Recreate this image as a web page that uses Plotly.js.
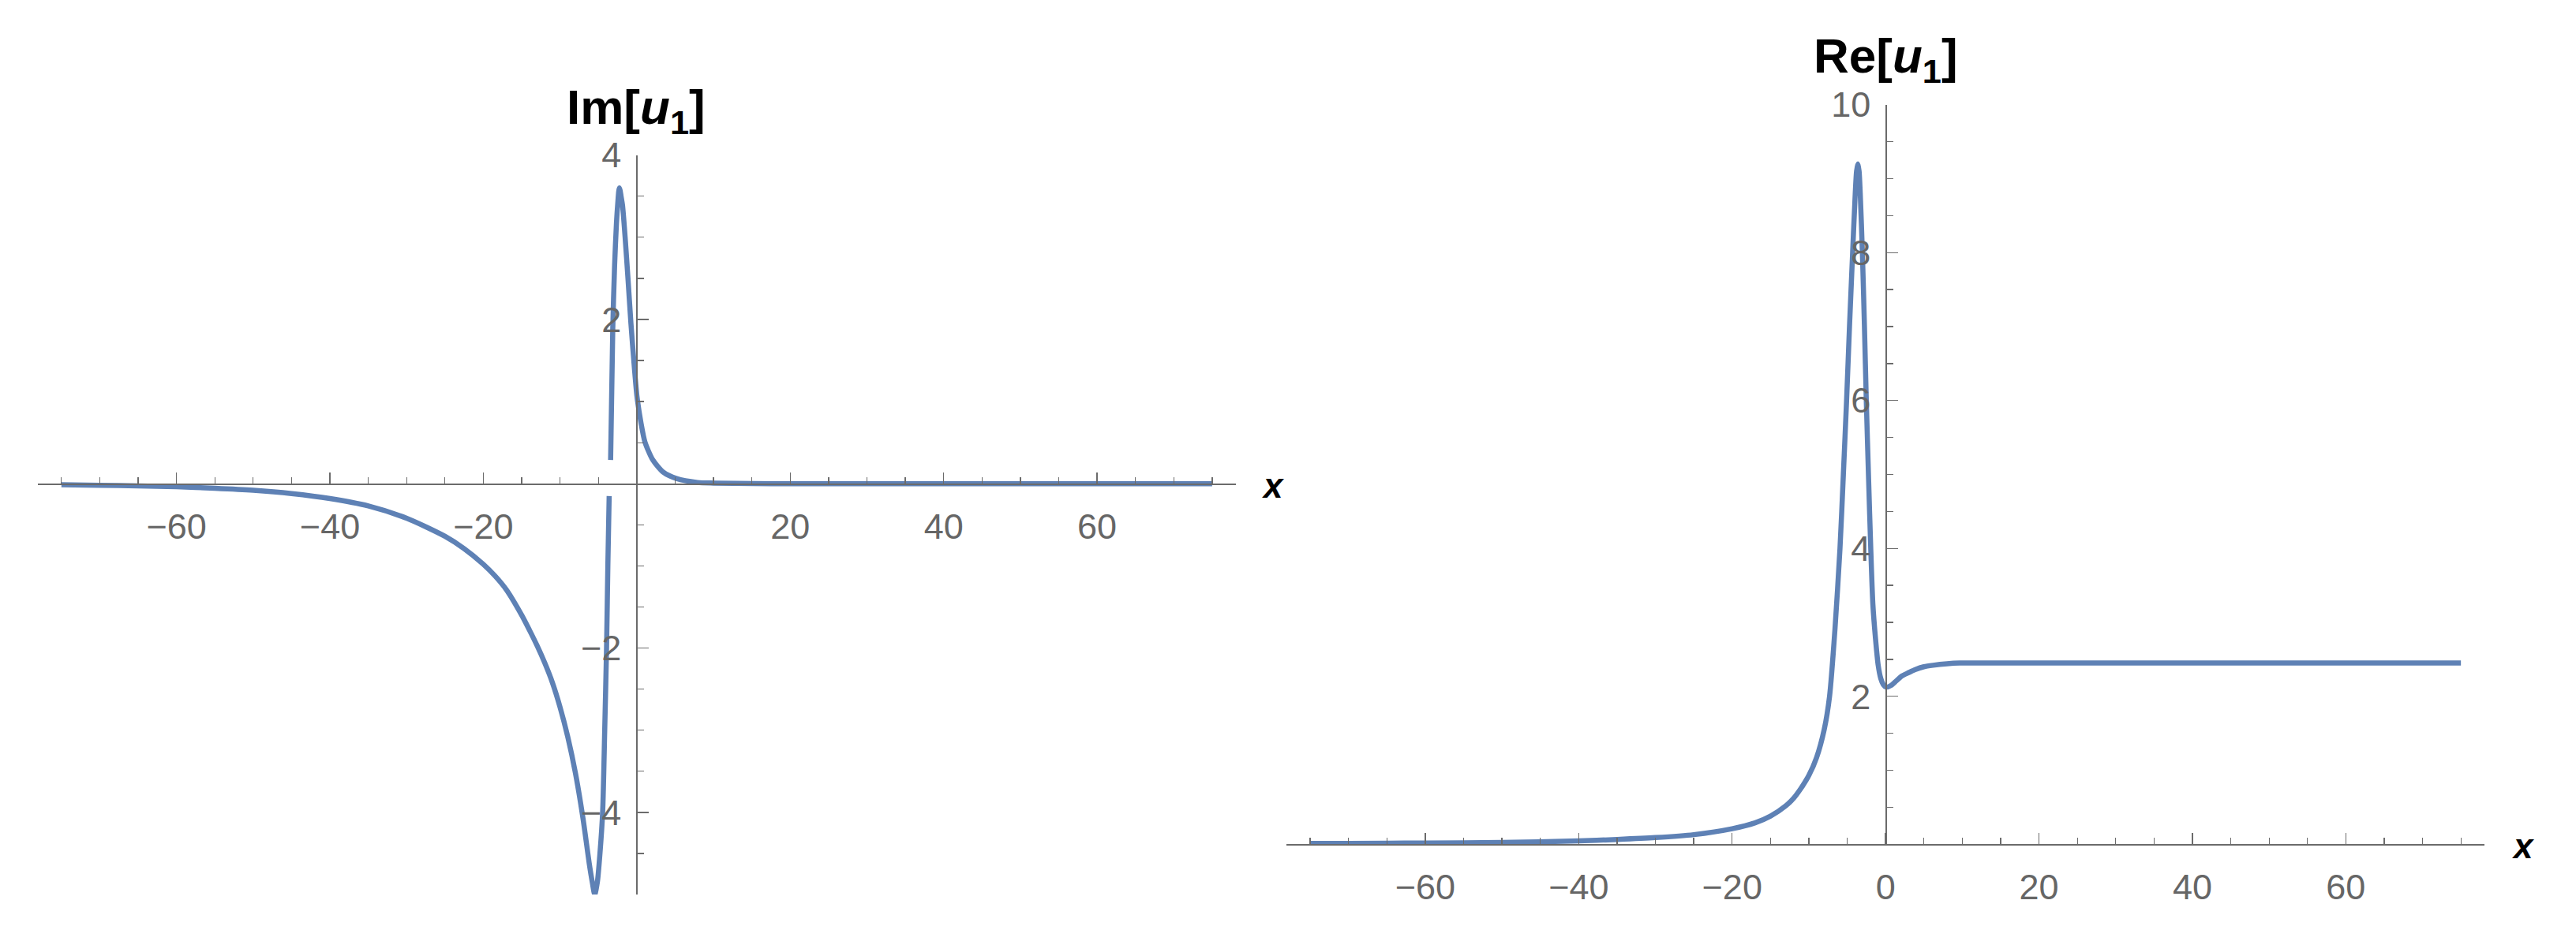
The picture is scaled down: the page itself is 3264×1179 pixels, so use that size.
<!DOCTYPE html>
<html>
<head>
<meta charset="utf-8">
<script src="https://cdn.plot.ly/plotly-3.0.1.min.js"></script>
<style>
html,body{margin:0;padding:0;background:#fff;}
#chart{width:3264px;height:1179px;}
</style>
</head>
<body>
<div id="chart"></div>
<script>
// ---- Data ----
// Left panel: Im[u1] (null marks the break in the curve)
const imX = [-75,-70,-65,-60,-55,-50,-45,-40,-35,-30,-25,-22.5,-20,-18.5,-17,-15,-14,-13,-12,-11,-10,-9,-8,-7,-6.2,-5.8,-5.48,-5.14,-4.8,-4.45,-4.18,-3.94,-3.77,-3.6,
             -3.5,
             -3.41,-3.13,-2.89,-2.65,-2.45,-2.35,-2.27,-2.17,-2.05,-1.86,-1.52,-1.17,-0.76,-0.31,0.03,0.55,1.06,2.09,3.46,5.17,7.9,10,15,20,30,40,50,60,70,75];
const imY = [-0.012,-0.018,-0.026,-0.036,-0.055,-0.08,-0.12,-0.18,-0.27,-0.42,-0.64,-0.79,-0.98,-1.12,-1.29,-1.6,-1.78,-1.97,-2.18,-2.42,-2.72,-3.08,-3.52,-4.08,-4.62,-4.85,-5.0,-4.85,-4.5,-4.0,-3.0,-2.0,-1.0,-0.15,
             null,
             0.29,1.89,2.66,3.17,3.45,3.56,3.6,3.57,3.5,3.39,3.0,2.53,1.95,1.41,1.06,0.74,0.51,0.29,0.14,0.064,0.016,0.008,0.002,0,0,0,0,0,0,0];

// Right panel: Re[u1]
const reX = [-75,-70,-60,-50,-40,-35,-30,-25,-20,-17,-15,-13,-12,-11,-10,-9,-8,-7.3,-6.6,-5.94,-5.5,-5.08,-4.7,-4.29,-3.95,-3.78,-3.61,-3.45,-3.3,-3.02,-2.75,-2.51,-2.2,-1.93,-1.65,-1.31,-0.96,-0.62,-0.3,0.07,0.75,1.4,2.12,3.0,3.83,5.0,6.2,8.0,9.65,12,16.5,25,40,60,75];
const reY = [0.01,0.012,0.017,0.025,0.045,0.065,0.09,0.13,0.21,0.29,0.38,0.52,0.62,0.76,0.93,1.17,1.55,2.0,2.9,4.0,5.0,6.0,7.0,8.0,8.8,9.1,9.2,9.1,8.8,8.0,7.0,6.0,4.9,4.0,3.24,2.78,2.42,2.24,2.16,2.125,2.15,2.21,2.275,2.32,2.36,2.4,2.42,2.44,2.45,2.45,2.45,2.45,2.45,2.45,2.45];

// Tick labels
const xTickValsLeft = [-60,-40,-20,20,40,60];
const xTickTextLeft = ['\u221260','\u221240','\u221220','20','40','60'];
const xTickValsRight = [-60,-40,-20,0,20,40,60];
const xTickTextRight = ['\u221260','\u221240','\u221220','0','20','40','60'];
const imTickVals = [-4,-2,2,4];
const imTickText = ['\u22124','\u22122','2','4'];
const reTickVals = [2,4,6,8,10];
const reTickText = ['2','4','6','8','10'];

// ---- Layout helpers ----
const W = 3264, H = 1179;
const px = v => v / W;
const py = v => 1 - v / H;

const lineColor = '#5E81B5';
const axisColor = '#6b6b6b';
const tickFont = {family: 'Liberation Sans, Arial, sans-serif', size: 45, color: '#666666'};

function xAxis(domain, pos, vals, text) {
  return {
    domain: domain, range: [-78.1, 78.1], anchor: 'free', position: pos,
    showline: true, linecolor: axisColor, linewidth: 1.3,
    showgrid: false, zeroline: false,
    ticks: 'inside', ticklen: 14, tickwidth: 1.3, tickcolor: axisColor,
    tickmode: 'array', tickvals: vals, ticktext: text,
    tickfont: tickFont, ticklabelstandoff: 14,
    minor: {tickmode: 'linear', tick0: 0, dtick: 5, ticks: 'inside', ticklen: 8, tickwidth: 1.3, tickcolor: axisColor, showgrid: false},
    fixedrange: true
  };
}
function yAxis(domain, pos, range, vals, text) {
  return {
    domain: domain, range: range, anchor: 'free', position: pos,
    showline: true, linecolor: axisColor, linewidth: 1.3,
    showgrid: false, zeroline: false,
    ticks: 'inside', ticklen: 14, tickwidth: 1.3, tickcolor: axisColor,
    tickmode: 'array', tickvals: vals, ticktext: text,
    tickfont: tickFont, ticklabelstandoff: 10,
    minor: {tickmode: 'linear', tick0: 0, dtick: 0.5, ticks: 'inside', ticklen: 8, tickwidth: 1.3, tickcolor: axisColor, showgrid: false},
    fixedrange: true
  };
}

const data = [
  {x: imX, y: imY, xaxis: 'x', yaxis: 'y', type: 'scatter', mode: 'lines',
   line: {color: lineColor, width: 6.5, shape: 'spline', smoothing: 0.7}, connectgaps: false, hoverinfo: 'skip'},
  {x: reX, y: reY, xaxis: 'x2', yaxis: 'y2', type: 'scatter', mode: 'lines',
   line: {color: lineColor, width: 6.5, shape: 'spline', smoothing: 0.7}, hoverinfo: 'skip'}
];

const layout = {
  width: W, height: H,
  margin: {l: 0, r: 0, t: 0, b: 0, pad: 0},
  paper_bgcolor: '#ffffff', plot_bgcolor: 'rgba(0,0,0,0)',
  showlegend: false,
  xaxis: xAxis([px(47.7), px(1566)], py(613.3), xTickValsLeft, xTickTextLeft),
  yaxis: yAxis([py(1134), py(196.7)], px(806.4), [-5, 4], imTickVals, imTickText),
  xaxis2: xAxis([px(1630), px(3148.3)], py(1070.3), xTickValsRight, xTickTextRight),
  yaxis2: yAxis([py(1070.3), py(132.7)], px(2389.4), [0, 10], reTickVals, reTickText),
  annotations: [
    {text: '<b>Im[<i>u</i><sub>1</sub>]</b>', xref: 'paper', yref: 'paper',
     x: px(806.4), y: py(140), xanchor: 'center', yanchor: 'middle', showarrow: false,
     font: {family: 'Liberation Sans, Arial, sans-serif', size: 62, color: '#000'}},
    {text: '<b>Re[<i>u</i><sub>1</sub>]</b>', xref: 'paper', yref: 'paper',
     x: px(2389.4), y: py(75), xanchor: 'center', yanchor: 'middle', showarrow: false,
     font: {family: 'Liberation Sans, Arial, sans-serif', size: 62, color: '#000'}},
    {text: '<b><i>x</i></b>', xref: 'paper', yref: 'paper',
     x: px(1613), y: py(615), xanchor: 'center', yanchor: 'middle', showarrow: false,
     font: {family: 'Liberation Sans, Arial, sans-serif', size: 44, color: '#000'}},
    {text: '<b><i>x</i></b>', xref: 'paper', yref: 'paper',
     x: px(3196.7), y: py(1072), xanchor: 'center', yanchor: 'middle', showarrow: false,
     font: {family: 'Liberation Sans, Arial, sans-serif', size: 44, color: '#000'}}
  ]
};

Plotly.newPlot('chart', data, layout, {staticPlot: true, displayModeBar: false});
</script>
</body>
</html>
